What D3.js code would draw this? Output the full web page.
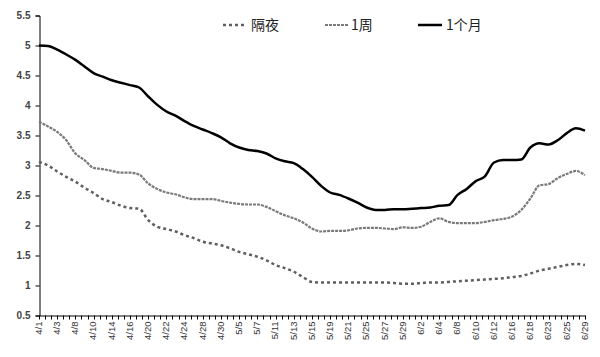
<!DOCTYPE html>
<html><head><meta charset="utf-8">
<script src="https://cdn.jsdelivr.net/npm/d3@7"></script>
<style>body{margin:0;background:#fff}</style>
</head><body>
<svg id="c" width="600" height="357"></svg>
<script>
const dates = ["4/1","4/2","4/3","4/7","4/8","4/9","4/10","4/13","4/14","4/15","4/16","4/17","4/20","4/21","4/22","4/23","4/24","4/27","4/28","4/29","4/30",
"5/4","5/5","5/6","5/7","5/8","5/11","5/12","5/13","5/14","5/15","5/18","5/19","5/20","5/21","5/22","5/25","5/26","5/27","5/28","5/29",
"6/1","6/2","6/3","6/4","6/5","6/8","6/9","6/10","6/11","6/12","6/15","6/16","6/17","6/18","6/19","6/23","6/24","6/25","6/26","6/29"];
const overnight = [3.06,3.00,2.90,2.81,2.73,2.63,2.54,2.44,2.39,2.33,2.29,2.28,2.09,1.98,1.94,1.90,1.84,1.79,1.73,1.70,1.67,
1.62,1.56,1.52,1.48,1.42,1.34,1.29,1.23,1.14,1.06,1.05,1.05,1.05,1.05,1.05,1.05,1.05,1.05,1.04,1.03,
1.03,1.04,1.05,1.05,1.06,1.07,1.08,1.09,1.10,1.11,1.12,1.14,1.16,1.20,1.25,1.28,1.31,1.34,1.36,1.34];
const week = [3.73,3.65,3.56,3.42,3.20,3.09,2.96,2.94,2.91,2.88,2.88,2.85,2.70,2.61,2.55,2.52,2.47,2.44,2.44,2.44,2.41,
2.38,2.36,2.35,2.35,2.31,2.24,2.17,2.12,2.05,1.95,1.90,1.91,1.91,1.92,1.95,1.96,1.96,1.95,1.94,1.97,
1.96,1.98,2.06,2.12,2.06,2.04,2.04,2.04,2.06,2.09,2.11,2.15,2.26,2.45,2.67,2.69,2.79,2.86,2.91,2.84];
const month = [5.00,4.99,4.93,4.85,4.76,4.65,4.54,4.48,4.42,4.38,4.34,4.30,4.15,4.01,3.90,3.83,3.74,3.66,3.60,3.54,3.47,
3.37,3.30,3.26,3.24,3.20,3.12,3.07,3.04,2.94,2.81,2.66,2.55,2.51,2.45,2.38,2.30,2.26,2.26,2.27,2.27,
2.28,2.29,2.30,2.33,2.34,2.51,2.61,2.74,2.82,3.05,3.09,3.09,3.10,3.30,3.37,3.35,3.42,3.54,3.62,3.58];
const yTicks = [0.5,1,1.5,2,2.5,3,3.5,4,4.5,5,5.5];
const seriesNames = ["隔夜","1周","1个月"];

const svg = d3.select("#c");
const x = d3.scaleLinear().domain([0, dates.length-1]).range([39, 585]);
const y = d3.scaleLinear().domain([0.5, 5.5]).range([315.5, 15.5]);

// y axis
const yAxis = d3.axisLeft(y).tickValues(yTicks).tickSize(4).tickFormat(d=>String(d));
const gy = svg.append("g").attr("transform","translate(39.5,0)").call(yAxis);
gy.select(".domain").attr("stroke","#000");
gy.selectAll(".tick line").attr("stroke","#000");
gy.selectAll("text").attr("font-family","Liberation Sans, Arial, sans-serif").attr("font-size","10px").attr("fill","#444").attr("font-weight","bold").attr("x",-9);

// x axis
const labelIdx = d3.range(0, dates.length, 2);
const xAxis = d3.axisBottom(x).tickValues(labelIdx).tickSize(0).tickFormat(i=>dates[i]);
const gx = svg.append("g").attr("transform","translate(0,315.5)").call(xAxis);
gx.select(".domain").attr("stroke","#000");
gx.selectAll("text").attr("font-family","Liberation Sans, Arial, sans-serif").attr("font-size","9.5px").attr("fill","#333")
  .attr("transform","rotate(-90)").attr("text-anchor","end").attr("x",-6).attr("y",-1).attr("dy","0.35em");
// minor tick marks
const minor = d3.range(0, dates.length-1+0.001, 2/3);
svg.append("g").selectAll("line").data(minor).join("line")
  .attr("x1",d=>Math.round(x(d))+0.5).attr("x2",d=>Math.round(x(d))+0.5)
  .attr("y1",315.5).attr("y2",319.5).attr("stroke","#000");

const line = d3.line().x((d,i)=>x(i)).y(d=>y(d)).curve(d3.curveMonotoneX);
const styles = [
  {data: overnight, stroke:"#5f5f5f", w:2.5, dash:"3,3"},
  {data: week, stroke:"#7a7a7a", w:2.2, dash:"3,1"},
  {data: month, stroke:"#000", w:2.5, dash:null}
];
styles.forEach(s=>{
  svg.append("path").attr("d", line(s.data)).attr("fill","none")
    .attr("stroke", s.stroke).attr("stroke-width", s.w).attr("stroke-dasharray", s.dash);
});

// legend
const legX = [223, 325, 418];
const legTX = [251, 351, 446];
styles.forEach((s,i)=>{
  svg.append("line").attr("x1",legX[i]).attr("x2",legX[i]+24).attr("y1",25).attr("y2",25)
    .attr("stroke", s.stroke).attr("stroke-width", s.w).attr("stroke-dasharray", s.dash);
  svg.append("text").attr("x",legTX[i]).attr("y",30).text(seriesNames[i])
    .attr("font-family","Noto Sans CJK SC, sans-serif").attr("font-size","14px").attr("fill","#222");
});
</script>
</body></html>
